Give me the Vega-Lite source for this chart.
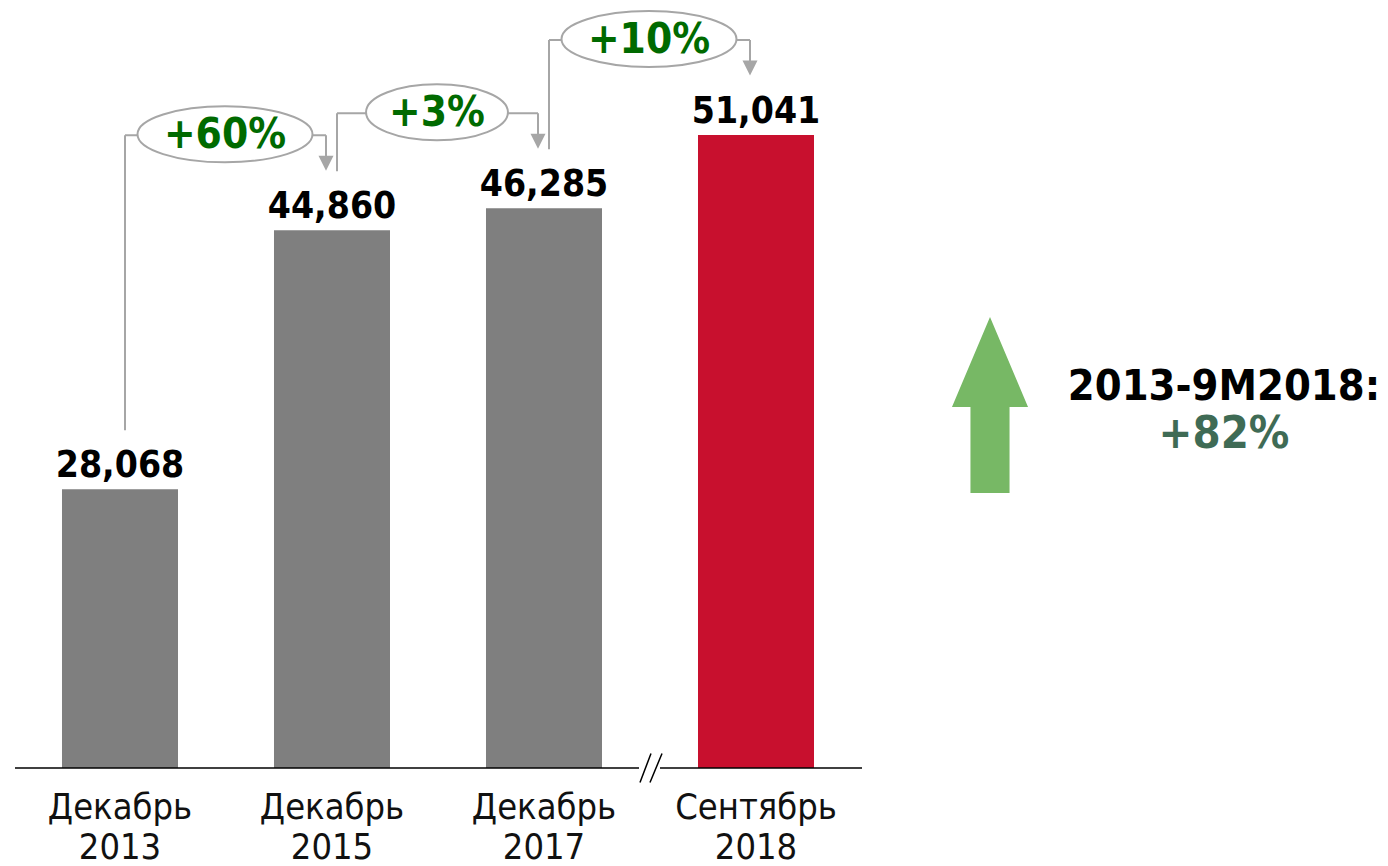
{
  "$schema": "https://vega.github.io/schema/vega-lite/v6.json",
  "width": 848,
  "height": 768,
  "autosize": {"type": "none"},
  "padding": {"left": 14, "top": 0, "right": 526, "bottom": 98},
  "background": "white",
  "config": {"view": {"stroke": null}, "font": "DejaVu Sans Condensed"},
  "datasets": {
    "bars": [
      {"period": "Декабрь 2013", "value": 28068},
      {"period": "Декабрь 2015", "value": 44860},
      {"period": "Декабрь 2017", "value": 46285},
      {"period": "Сентябрь 2018", "value": 51041}
    ],
    "growth": [
      {"from": "Декабрь 2013", "to": "Декабрь 2015", "fromValue": 28068, "toValue": 44860, "growth": "+60%"},
      {"from": "Декабрь 2015", "to": "Декабрь 2017", "fromValue": 44860, "toValue": 46285, "growth": "+3%"},
      {"from": "Декабрь 2017", "to": "Сентябрь 2018", "fromValue": 46285, "toValue": 51041, "growth": "+10%"}
    ],
    "summary": [
      {"period": "2013-9M2018:", "growth": "+82%"}
    ],
    "axisBreak": [
      {"base": 10000}
    ]
  },
  "layer": [
    {
      "layer": [
        {
          "data": {"name": "bars"},
          "mark": {"type": "bar"},
          "encoding": {
            "x": {
              "field": "period", "type": "nominal", "sort": null,
              "scale": {"domain": ["Декабрь 2013", "Декабрь 2015", "Декабрь 2017", "Сентябрь 2018"], "paddingInner": 0.4528, "paddingOuter": 0.2264},
              "axis": {"title": null, "domain": false, "ticks": false, "labelAngle": 0, "labelExpr": "split(datum.label, ' ')", "labelFont": "DejaVu Sans Condensed", "labelFontSize": 36, "labelLineHeight": 40, "labelPadding": 22, "labelColor": "#111111"}
            },
            "y": {"field": "value", "type": "quantitative", "scale": {"domain": [10000, 59792], "zero": false, "nice": false}, "axis": null},
            "y2": {"datum": 10000},
            "color": {"field": "period", "type": "nominal", "sort": null, "scale": {"domain": ["Декабрь 2013", "Декабрь 2015", "Декабрь 2017", "Сентябрь 2018"], "range": ["#7f7f7f", "#7f7f7f", "#7f7f7f", "#c8102e"]}, "legend": null}
          }
        },
        {
          "data": {"name": "bars"},
          "mark": {"type": "text", "font": "DejaVu Sans Condensed", "fontSize": 37, "fontWeight": "bold", "color": "#000000", "baseline": "alphabetic", "align": "center", "dy": -12},
          "encoding": {
            "x": {"field": "period", "type": "nominal", "sort": null},
            "y": {"field": "value", "type": "quantitative"},
            "text": {"field": "value", "type": "quantitative", "format": ","}
          }
        },
        {
          "data": {"name": "axisBreak"},
          "mark": {"type": "rule", "color": "#000000", "strokeWidth": 1.5, "xOffset": -105, "x2Offset": 95},
          "encoding": {
            "x": {"datum": "Декабрь 2013", "type": "nominal"},
            "x2": {"datum": "Декабрь 2017"},
            "y": {"field": "base", "type": "quantitative"}
          }
        },
        {
          "data": {"name": "axisBreak"},
          "mark": {"type": "rule", "color": "#000000", "strokeWidth": 1.5, "xOffset": -96, "x2Offset": 106},
          "encoding": {
            "x": {"datum": "Сентябрь 2018", "type": "nominal"},
            "x2": {"datum": "Сентябрь 2018"},
            "y": {"field": "base", "type": "quantitative"}
          }
        },
        {
          "data": {"name": "axisBreak"},
          "mark": {"type": "point", "shape": "M-0.76,1L0,-1M-0.07,1L0.76,-1", "size": 841, "filled": false, "stroke": "#000000", "strokeWidth": 1.5, "opacity": 1, "xOffset": -105},
          "encoding": {
            "x": {"datum": "Сентябрь 2018", "type": "nominal"},
            "y": {"field": "base", "type": "quantitative"}
          }
        },
        {
          "data": {"name": "growth"},
          "mark": {"type": "rule", "color": "#a6a6a6", "strokeWidth": 2, "xOffset": 5, "yOffset": -59, "y2Offset": -95},
          "encoding": {
            "x": {"field": "from", "type": "nominal"},
            "y": {"field": "fromValue", "type": "quantitative"},
            "y2": {"field": "toValue"}
          }
        },
        {
          "data": {"name": "growth"},
          "mark": {"type": "rule", "color": "#a6a6a6", "strokeWidth": 2, "xOffset": 5, "x2Offset": -6, "yOffset": -95},
          "encoding": {
            "x": {"field": "from", "type": "nominal"},
            "x2": {"field": "to"},
            "y": {"field": "toValue", "type": "quantitative"}
          }
        },
        {
          "data": {"name": "growth"},
          "mark": {"type": "rule", "color": "#a6a6a6", "strokeWidth": 2, "xOffset": -6, "yOffset": -95, "y2Offset": -73},
          "encoding": {
            "x": {"field": "to", "type": "nominal"},
            "y": {"field": "toValue", "type": "quantitative"},
            "y2": {"field": "toValue"}
          }
        },
        {
          "data": {"name": "growth"},
          "mark": {"type": "point", "shape": "M-1,-1L1,-1L0,1Z", "size": 225, "filled": true, "fill": "#a6a6a6", "strokeWidth": 0, "opacity": 1, "xOffset": -6, "yOffset": -67},
          "encoding": {
            "x": {"field": "to", "type": "nominal"},
            "y": {"field": "toValue", "type": "quantitative"}
          }
        },
        {
          "data": {"name": "growth"},
          "mark": {"type": "point", "size": 30625, "filled": true, "fill": "#ffffff", "stroke": "#a6a6a6", "strokeWidth": 2, "opacity": 1, "xOffset": -49, "yOffset": -96},
          "encoding": {
            "x": {"field": "to", "type": "nominal", "bandPosition": 0},
            "y": {"field": "toValue", "type": "quantitative"},
            "shape": {
              "field": "growth", "type": "nominal",
              "scale": {"domain": ["+60%", "+3%", "+10%"], "range": [
                "M-1,0C-1,-0.1767,-0.5523,-0.32,0,-0.32C0.5523,-0.32,1,-0.1767,1,0C1,0.1767,0.5523,0.32,0,0.32C-0.5523,0.32,-1,0.1767,-1,0Z",
                "M-0.811,0C-0.811,-0.1767,-0.448,-0.32,0,-0.32C0.448,-0.32,0.811,-0.1767,0.811,0C0.811,0.1767,0.448,0.32,0,0.32C-0.448,0.32,-0.811,0.1767,-0.811,0Z",
                "M-1,0C-1,-0.1767,-0.5523,-0.32,0,-0.32C0.5523,-0.32,1,-0.1767,1,0C1,0.1767,0.5523,0.32,0,0.32C-0.5523,0.32,-1,0.1767,-1,0Z"
              ]},
              "legend": null
            }
          }
        },
        {
          "data": {"name": "growth"},
          "mark": {"type": "text", "font": "DejaVu Sans Condensed", "fontSize": 42, "fontWeight": "bold", "color": "#006a00", "baseline": "alphabetic", "align": "center", "xOffset": -49, "dy": -82},
          "encoding": {
            "x": {"field": "to", "type": "nominal", "bandPosition": 0},
            "y": {"field": "toValue", "type": "quantitative"},
            "text": {"field": "growth", "type": "nominal"}
          }
        }
      ]
    },
    {
      "data": {"name": "summary"},
      "layer": [
        {
          "mark": {"type": "point", "shape": "M0,-1L0.432,0.023L0.222,0.023L0.222,1L-0.222,1L-0.222,0.023L-0.432,0.023Z", "size": 30976, "filled": true, "fill": "#77b865", "strokeWidth": 0, "opacity": 1, "yOffset": 5},
          "encoding": {
            "x": {"datum": "arrow", "type": "nominal", "scale": {"type": "point", "domain": ["arrow", "text"], "range": [976, 1210], "padding": 0}, "axis": null},
            "y": {"datum": "title", "type": "nominal", "scale": {"type": "point", "domain": ["title", "pct"], "range": [400, 448], "padding": 0}, "axis": null}
          }
        },
        {
          "mark": {"type": "text", "font": "DejaVu Sans Condensed", "fontSize": 43, "fontWeight": "bold", "color": "#000000", "baseline": "alphabetic", "align": "center"},
          "encoding": {
            "x": {"datum": "text", "type": "nominal"},
            "y": {"datum": "title", "type": "nominal"},
            "text": {"field": "period", "type": "nominal"}
          }
        },
        {
          "mark": {"type": "text", "font": "DejaVu Sans Condensed", "fontSize": 45, "fontWeight": "bold", "color": "#3f6b55", "baseline": "alphabetic", "align": "center"},
          "encoding": {
            "x": {"datum": "text", "type": "nominal"},
            "y": {"datum": "pct", "type": "nominal"},
            "text": {"field": "growth", "type": "nominal"}
          }
        }
      ]
    }
  ],
  "resolve": {"scale": {"x": "independent", "y": "independent"}}
}
